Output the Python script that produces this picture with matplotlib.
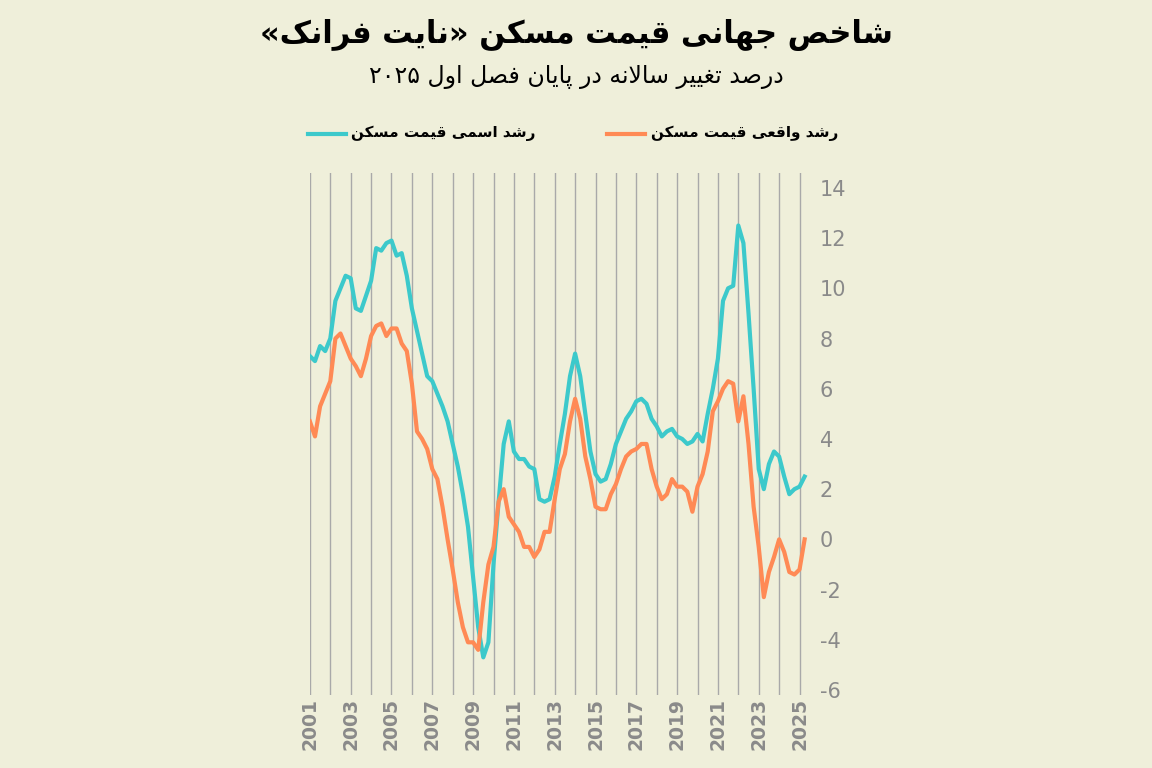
import re
import numpy as np
import matplotlib.pyplot as plt

# ---- minimal Persian shaping (matplotlib has no Arabic shaping) ----
FORMS = {
    'ا': (0xFE8D, 0xFE8E), 'د': (0xFEA9, 0xFEAA), 'ر': (0xFEAD, 0xFEAE),
    'و': (0xFEED, 0xFEEE),
    'ب': (0xFE8F, 0xFE90, 0xFE91, 0xFE92), 'پ': (0xFB56, 0xFB57, 0xFB58, 0xFB59),
    'ت': (0xFE95, 0xFE96, 0xFE97, 0xFE98), 'ج': (0xFE9D, 0xFE9E, 0xFE9F, 0xFEA0),
    'ح': (0xFEA1, 0xFEA2, 0xFEA3, 0xFEA4), 'خ': (0xFEA5, 0xFEA6, 0xFEA7, 0xFEA8),
    'س': (0xFEB1, 0xFEB2, 0xFEB3, 0xFEB4), 'ش': (0xFEB5, 0xFEB6, 0xFEB7, 0xFEB8),
    'ص': (0xFEB9, 0xFEBA, 0xFEBB, 0xFEBC), 'ع': (0xFEC9, 0xFECA, 0xFECB, 0xFECC),
    'غ': (0xFECD, 0xFECE, 0xFECF, 0xFED0), 'ف': (0xFED1, 0xFED2, 0xFED3, 0xFED4),
    'ق': (0xFED5, 0xFED6, 0xFED7, 0xFED8), 'ک': (0xFB8E, 0xFB8F, 0xFB90, 0xFB91),
    'ل': (0xFEDD, 0xFEDE, 0xFEDF, 0xFEE0), 'م': (0xFEE1, 0xFEE2, 0xFEE3, 0xFEE4),
    'ن': (0xFEE5, 0xFEE6, 0xFEE7, 0xFEE8), 'ه': (0xFEE9, 0xFEEA, 0xFEEB, 0xFEEC),
    'ی': (0xFBFC, 0xFBFD, 0xFBFE, 0xFBFF),
}


def fa(text):
    s = text.replace('لا', '\uE000')
    out = []
    for i, c in enumerate(s):
        prev = s[i - 1] if i > 0 else ''
        nxt = s[i + 1] if i + 1 < len(s) else ''
        jp = prev in FORMS and len(FORMS[prev]) == 4
        if c == '\uE000':
            out.append(chr(0xFEFC if jp else 0xFEFB))
            continue
        if c not in FORMS:
            out.append(c)
            continue
        f = FORMS[c]
        jn = len(f) == 4 and (nxt in FORMS or nxt == '\uE000')
        if jp and jn:
            out.append(chr(f[3]))
        elif jp:
            out.append(chr(f[1]))
        elif jn:
            out.append(chr(f[2]))
        else:
            out.append(chr(f[0]))
    r = ''.join(out)[::-1]
    r = r.translate(str.maketrans('«»', '»«'))
    return re.sub(r'[0-9۰-۹]+', lambda m: m.group()[::-1], r)


# ---- data: quarterly, 2001Q1 .. 2025Q2 ----
nominal = [7.3, 7.1, 7.7, 7.5, 8.0, 9.5, 10.0, 10.5, 10.4, 9.2, 9.1, 9.7,
           10.3, 11.6, 11.5, 11.8, 11.9, 11.3, 11.4, 10.5, 9.2, 8.3, 7.4, 6.5,
           6.3, 5.8, 5.3, 4.7, 3.8, 2.9, 1.8, 0.5, -1.5, -3.5, -4.7, -4.1,
           -1.0, 1.5, 3.8, 4.7, 3.5, 3.2, 3.2, 2.9, 2.8, 1.6, 1.5, 1.6,
           2.5, 3.8, 5.0, 6.5, 7.4, 6.5, 5.0, 3.5, 2.6, 2.3, 2.4, 3.0,
           3.8, 4.3, 4.8, 5.1, 5.5, 5.6, 5.4, 4.8, 4.5, 4.1, 4.3, 4.4,
           4.1, 4.0, 3.8, 3.9, 4.2, 3.9, 5.0, 6.0, 7.2, 9.5, 10.0, 10.1,
           12.5, 11.8, 9.0, 6.0, 2.8, 2.0, 3.0, 3.5, 3.3, 2.5, 1.8, 2.0,
           2.1, 2.5]
real = [4.7, 4.1, 5.3, 5.8, 6.3, 8.0, 8.2, 7.7, 7.2, 6.9, 6.5, 7.2,
        8.1, 8.5, 8.6, 8.1, 8.4, 8.4, 7.8, 7.5, 6.2, 4.3, 4.0, 3.6,
        2.8, 2.4, 1.3, 0.0, -1.2, -2.5, -3.5, -4.1, -4.1, -4.4, -2.5, -1.0,
        -0.3, 1.5, 2.0, 0.9, 0.6, 0.3, -0.3, -0.3, -0.7, -0.4, 0.3, 0.3,
        1.6, 2.8, 3.4, 4.7, 5.6, 4.8, 3.3, 2.4, 1.3, 1.2, 1.2, 1.8,
        2.2, 2.8, 3.3, 3.5, 3.6, 3.8, 3.8, 2.8, 2.1, 1.6, 1.8, 2.4,
        2.1, 2.1, 1.9, 1.1, 2.1, 2.6, 3.5, 5.1, 5.5, 6.0, 6.3, 6.2,
        4.7, 5.7, 3.8, 1.3, -0.3, -2.3, -1.3, -0.7, 0.0, -0.5, -1.3, -1.4,
        -1.2, 0.0]
quarters = 2001 + np.arange(len(nominal)) * 0.25
year_ticks = list(range(2001, 2026, 2))
y_ticks = list(range(-6, 15, 2))

title = 'شاخص جهانی قیمت مسکن «نایت فرانک»'
subtitle = 'درصد تغییر سالانه در پایان فصل اول ۲۰۲۵'
label_nom = 'رشد اسمی قیمت مسکن'
label_real = 'رشد واقعی قیمت مسکن'

BG = '#EFEFDA'
CYAN = '#3CC9CB'
ORANGE = '#FF8A55'
GRAY = '#8A8A8A'

fig = plt.figure(figsize=(11.52, 7.68), dpi=100, facecolor=BG)
ax = fig.add_axes([0.269, 0.095, 0.433, 0.68])
ax.set_facecolor(BG)

ax.plot(quarters, nominal, color=CYAN, lw=3)
ax.plot(quarters, real, color=ORANGE, lw=3)

ax.set_xlim(2001, 2025.45)
ax.set_ylim(-6.2, 14.6)
ax.set_xticks(range(2001, 2026), minor=True)
ax.set_xticks(year_ticks)
ax.set_xticklabels([str(y) for y in year_ticks], rotation=90, fontsize=13.5,
                   color=GRAY, fontweight='bold')
ax.grid(True, axis='x', which='both', color='#A9A9A9', lw=1)
ax.yaxis.tick_right()
ax.set_yticks(y_ticks)
ax.set_yticklabels([str(v) for v in y_ticks], fontsize=15, color=GRAY)
ax.tick_params(axis='y', length=0, pad=8)
ax.tick_params(axis='x', length=0, pad=2)
ax.tick_params(axis='x', which='minor', length=0)
for s in ax.spines.values():
    s.set_visible(False)

fig.text(0.5, 0.955, fa(title), ha='center', va='center', fontsize=22,
         fontweight='bold', family='DejaVu Sans')
fig.text(0.5, 0.9, fa(subtitle), ha='center', va='center', fontsize=17,
         family='DejaVu Sans')

# legend
fig.add_artist(plt.Line2D([0.267, 0.3], [0.826, 0.826], color=CYAN, lw=3))
fig.text(0.305, 0.826, fa(label_nom), ha='left', va='center', fontsize=11,
         fontweight='bold')
fig.add_artist(plt.Line2D([0.527, 0.56], [0.826, 0.826], color=ORANGE, lw=3))
fig.text(0.565, 0.826, fa(label_real), ha='left', va='center', fontsize=11,
         fontweight='bold')

fig.savefig('out.png', dpi=100, facecolor=BG)
